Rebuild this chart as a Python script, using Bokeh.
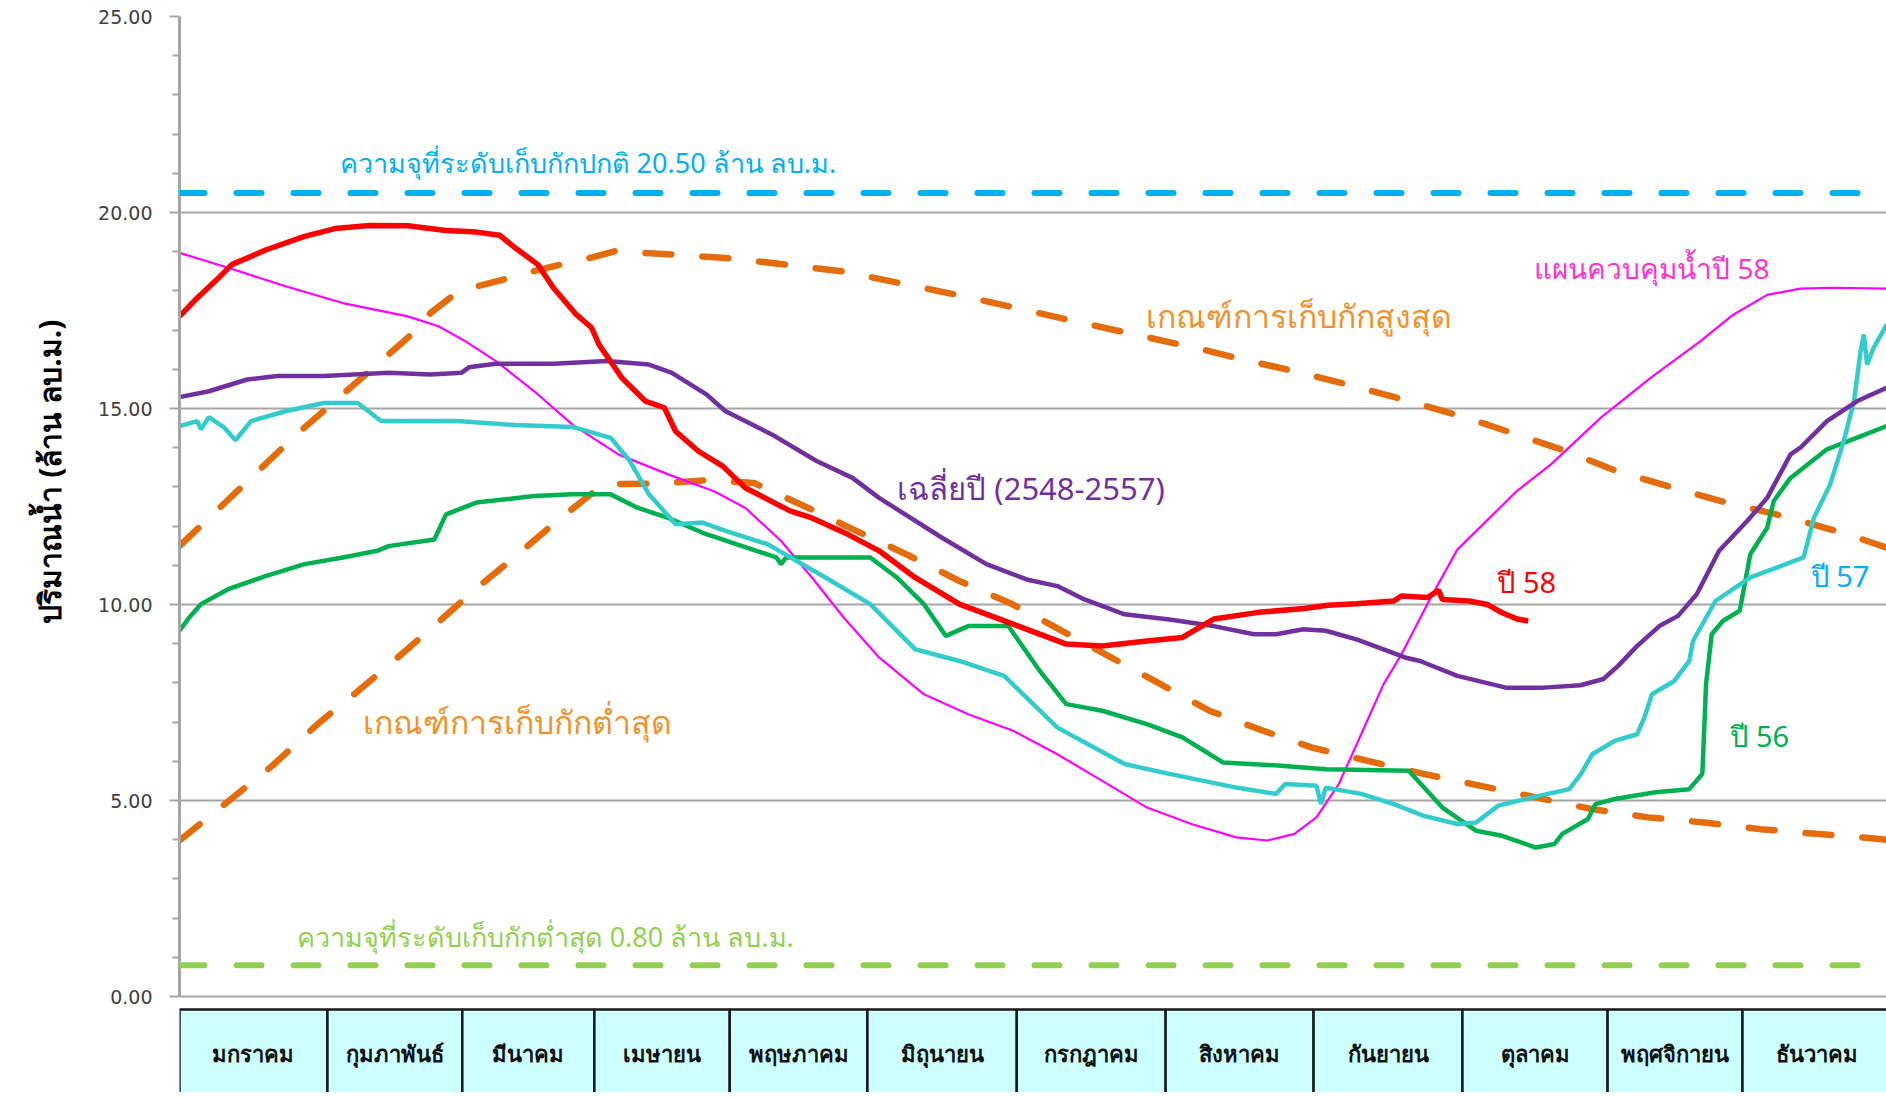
from bokeh.plotting import figure
from bokeh.models import Range1d, FixedTicker, PrintfTickFormatter, Span, Title
from bokeh.core.properties import value
from bokeh.embed import file_html
from bokeh.resources import INLINE

# ---------------- data (x = day of year, y = million m3) ----------------
months = ["มกราคม", "กุมภาพันธ์", "มีนาคม", "เมษายน", "พฤษภาคม", "มิถุนายน",
          "กรกฎาคม", "สิงหาคม", "กันยายน", "ตุลาคม", "พฤศจิกายน", "ธันวาคม"]
month_edges = [0, 31.7, 60.6, 88.9, 117.9, 147.4, 179.4, 211.3, 243.0, 274.9, 306.0, 334.9, 366.7]

normal_capacity = 20.50
min_capacity = 0.80

upper_day = [0, 25.1, 50.5, 53.8, 58.8, 62.8, 69.4, 75.1, 80.9, 86.6, 93.2, 98.9, 105.5, 117, 122.7,
             142, 167.8, 193.6, 219.4, 226.4, 238.9, 250.3, 261.6, 275.9, 296, 308, 320, 331.5,
             343.6, 356.4, 365.8]
upper_val = [11.49, 14.34, 16.97, 17.44, 17.9, 18.09, 18.29, 18.48, 18.65, 18.8, 19.01, 18.97, 18.93,
             18.84, 18.77, 18.5, 17.87, 17.18, 16.5, 16.29, 15.95, 15.61, 15.25, 14.76, 13.96, 13.4,
             12.98, 12.6, 12.26, 11.83, 11.45]

lower_day = [0, 9.6, 20, 29.6, 37.3, 45.9, 54.5, 64, 72.6, 80.9, 89.9, 92.4, 101.4, 112.9, 123.1,
             134.6, 145, 155.6, 167.1, 178.6, 189.1, 199.6, 210.2, 220.7, 232.2, 242.7, 254.6, 266.6,
             278.6, 290.6, 302.7, 314.7, 326.7, 338.7, 350.7, 362.7, 365.8]
lower_val = [3.98, 4.9, 5.9, 6.95, 7.7, 8.56, 9.45, 10.45, 11.29, 12.13, 12.98, 13.07, 13.08, 13.17,
             13.1, 12.47, 11.88, 11.29, 10.6, 10.0, 9.33, 8.65, 7.97, 7.29, 6.78, 6.35, 6.01, 5.68,
             5.38, 5.08, 4.78, 4.57, 4.44, 4.27, 4.15, 4.04, 4.0]

plan_day = [0, 10.4, 22.7, 35, 48.9, 55.5, 61.2, 67.8, 76, 84.2, 94, 104.7, 114.5, 121.2, 128.9,
            135.5, 142.3, 149.9, 159.5, 169, 178.6, 188.1, 197.7, 207.3, 216.8, 226.4, 233.1, 238.9,
            243.6, 248.4, 253.2, 258, 261.7, 268.2, 273.8, 286.6, 293.8, 304.5, 315.2, 325.9, 333,
            340.2, 347.3, 354.4, 365.8]
plan_val = [18.97, 18.59, 18.12, 17.69, 17.35, 17.1, 16.72, 16.21, 15.44, 14.59, 13.83, 13.32, 12.89,
            12.47, 11.62, 10.69, 9.67, 8.65, 7.71, 7.2, 6.78, 6.18, 5.5, 4.82, 4.4, 4.06, 3.98, 4.15,
            4.57, 5.42, 6.69, 7.97, 8.7, 10.2, 11.4, 12.9, 13.57, 14.76, 15.78, 16.72, 17.4, 17.9,
            18.06, 18.08, 18.06]

y56_day = [0, 2.1, 4.6, 10.4, 18.6, 26.8, 35, 42.4, 44.8, 54.6, 57.1, 63.6, 76, 84.2, 92.4, 98.1,
           104.7, 112.1, 119.3, 127.9, 128.9, 130, 140.3, 148, 153.7, 159.5, 164.2, 169, 177.6, 184.3,
           190, 197.7, 207.3, 214.9, 223.6, 236, 245.6, 263.4, 270.6, 277.8, 283.4, 290.6, 294.6,
           296.3, 301.8, 303.4, 307.5, 316.3, 323.5, 326.3, 327.1, 328.3, 330.7, 334.3, 336.6, 340.2,
           341.6, 345.2, 353, 365.8]
y56_val = [9.33, 9.67, 10.01, 10.39, 10.73, 11.03, 11.2, 11.37, 11.49, 11.66, 12.3, 12.6, 12.77,
           12.81, 12.81, 12.47, 12.21, 11.83, 11.54, 11.2, 11.03, 11.2, 11.2, 11.2, 10.69, 10.01, 9.2,
           9.45, 9.45, 8.31, 7.46, 7.29, 6.95, 6.61, 5.97, 5.89, 5.8, 5.76, 4.82, 4.23, 4.1, 3.8, 3.89,
           4.15, 4.53, 4.91, 5.04, 5.21, 5.29, 5.68, 7.97, 9.24, 9.58, 9.84, 11.29, 11.96, 12.64,
           13.23, 13.96, 14.55]

y57_day = [0, 3.8, 4.6, 6.3, 9.6, 12, 15.3, 22.7, 30.9, 38.2, 43.2, 59.6, 71.9, 84.2, 92.4, 96.5,
           100.6, 106.3, 112.1, 117, 126, 138.4, 148, 157.6, 167.1, 176.7, 188.1, 202.5, 212.1, 226.4,
           235, 236.9, 243.6, 244.6, 245.6, 253.2, 260.2, 266.6, 273.8, 277.8, 282.6, 289.8, 297.8,
           300.3, 302.7, 307.5, 312.3, 313.9, 315.5, 320.3, 323.5, 324.3, 326.7, 329.1, 336.6, 348,
           350.2, 353.7, 356.6, 358.8, 360.2, 360.9, 361.6, 363, 365.8]
y57_val = [14.55, 14.68, 14.47, 14.78, 14.51, 14.19, 14.68, 14.93, 15.14, 15.14, 14.68, 14.68, 14.58,
           14.53, 14.25, 13.66, 12.81, 12.05, 12.09, 11.88, 11.54, 10.69, 10.01, 8.86, 8.56, 8.18,
           6.86, 5.93, 5.68, 5.33, 5.17, 5.42, 5.38, 4.91, 5.33, 5.17, 4.91, 4.61, 4.4, 4.44, 4.87,
           5.08, 5.29, 5.68, 6.18, 6.52, 6.69, 7.12, 7.71, 8.05, 8.56, 9.07, 9.58, 10.09, 10.69, 11.2,
           12.21, 13.07, 14.17, 15.19, 16.46, 16.89, 16.12, 16.55, 17.14]

avg_day = [0, 6.3, 14.5, 21, 30.9, 44.8, 53.8, 60.4, 62, 67.8, 80.1, 91.6, 100.6, 105.5, 112.9, 117,
           121.2, 126.9, 136.5, 144.2, 149.9, 163.3, 172.9, 181.5, 188.1, 193.9, 202.5, 212.1, 221.6,
           230.2, 235, 240.8, 245.6, 252.2, 262.6, 265.8, 273.8, 284.2, 292.3, 300.2, 305.1, 308.3,
           312.3, 317.1, 321.1, 325.1, 329.9, 335.9, 340.2, 345.2, 347.3, 353, 359.5, 365.8]
avg_val = [15.29, 15.44, 15.74, 15.83, 15.83, 15.91, 15.87, 15.91, 16.05, 16.14, 16.14, 16.21, 16.12,
           15.91, 15.36, 14.93, 14.68, 14.34, 13.66, 13.23, 12.72, 11.71, 11.03, 10.64, 10.47, 10.13,
           9.75, 9.62, 9.45, 9.24, 9.24, 9.37, 9.33, 9.11, 8.65, 8.56, 8.18, 7.88, 7.88, 7.94, 8.1,
           8.44, 8.94, 9.45, 9.71, 10.26, 11.37, 12.13, 12.72, 13.83, 14.0, 14.68, 15.19, 15.53]

y58_day = [0, 3.8, 8.7, 11.2, 18.6, 26.8, 33.3, 40.7, 48.9, 57.1, 63.6, 68.6, 71.9, 76.8, 80.1, 85,
           88.3, 89.9, 94.8, 99.8, 103.9, 106.3, 111.2, 116.4, 121.2, 130.8, 135.5, 143.2, 149.9,
           157.6, 167.1, 178.6, 190, 197.7, 207.3, 214.9, 221.6, 231.2, 241, 246, 252.2, 260.2, 261.8,
           267.4, 269.8, 270.6, 276.2, 280.3, 283.4, 286.6, 289]
y58_val = [17.35, 17.82, 18.37, 18.67, 19.05, 19.39, 19.59, 19.67, 19.66, 19.54, 19.5, 19.42, 19.1,
           18.67, 18.08, 17.4, 17.06, 16.63, 15.78, 15.19, 15.02, 14.42, 13.91, 13.53, 12.98, 12.39,
           12.21, 11.79, 11.37, 10.69, 10.01, 9.5, 8.99, 8.94, 9.07, 9.16, 9.63, 9.8, 9.9, 9.98, 10.02,
           10.09, 10.22, 10.18, 10.36, 10.13, 10.09, 10.0, 9.79, 9.63, 9.58]

y_ticks = [0, 5, 10, 15, 20, 25]
y_title = "ปริมาณน้ำ (ล้าน ลบ.ม.)"

# ---------------- figure ----------------
THAI = value("Noto Sans")
p = figure(width=1886, height=1092, x_range=Range1d(0, 365.76), y_range=Range1d(-2.448, 25.0),
           output_backend="svg", toolbar_location=None, x_axis_location=None,
           min_border_left=179, min_border_right=0, min_border_top=16, min_border_bottom=0)
p.outline_line_color = None
p.xgrid.visible = False

tk = FixedTicker(ticks=y_ticks, minor_ticks=[m for m in range(0, 26) if m % 5])
p.yaxis.ticker = tk
p.ygrid.ticker = tk
p.ygrid.grid_line_color = "#A6A6A6"
p.ygrid.grid_line_width = 2
p.yaxis.bounds = (0, 25)
p.yaxis.formatter = PrintfTickFormatter(format="%.2f")
p.yaxis.axis_line_color = "#A6A6A6"
p.yaxis.axis_line_width = 3
p.yaxis.major_tick_line_color = "#A6A6A6"
p.yaxis.major_tick_line_width = 2
p.yaxis.major_tick_out = 10
p.yaxis.major_tick_in = 0
p.yaxis.minor_tick_line_color = "#A6A6A6"
p.yaxis.minor_tick_line_width = 2
p.yaxis.minor_tick_out = 7
p.yaxis.minor_tick_in = 0
p.yaxis.major_label_text_font = "DejaVu Sans"
p.yaxis.major_label_text_font_size = "19px"
p.yaxis.major_label_text_color = "#404040"
p.yaxis.major_label_standoff = 17

# y axis title as a left-side title, shifted up from the frame bottom
p.add_layout(Title(text=y_title, align="left", offset=469, standoff=51,
                   text_font="Noto Sans", text_font_size="30px", text_font_style="bold",
                   text_color="#000000"), "left")

# capacity reference lines
p.add_layout(Span(location=normal_capacity, dimension="width", line_color="#00B0F0",
                  line_width=6, line_dash="25 32", line_cap="round"))
p.add_layout(Span(location=min_capacity, dimension="width", line_color="#92D050",
                  line_width=6, line_dash="25 32", line_cap="round"))

# rule curves
p.line(upper_day, upper_val, line_color="#E46C0A", line_width=6.5, line_dash="26 31", line_cap="round")
p.line(lower_day, lower_val, line_color="#E46C0A", line_width=6.5, line_dash="26 31", line_cap="round")

# series
p.line(plan_day, plan_val, line_color="#FF00FF", line_width=2.2)
p.line(y56_day, y56_val, line_color="#00B050", line_width=4.5)
p.line(y57_day, y57_val, line_color="#33CCCC", line_width=4.5)
p.line(avg_day, avg_val, line_color="#7030A0", line_width=4.5)
p.line(y58_day, y58_val, line_color="#FF0000", line_width=5.5)

# month table under the chart
box_top, box_bottom, box_text_y = -0.33, -2.6, -1.45
p.quad(left=month_edges[:-1], right=month_edges[1:], top=box_top, bottom=box_bottom,
       fill_color="#CCFFFF", line_color="#1A1A1A", line_width=2.5)
centers = [(a + b) / 2 for a, b in zip(month_edges[:-1], month_edges[1:])]
p.text(x=centers, y=[box_text_y] * 12, text=months, text_align="center", text_baseline="middle",
       text_font=THAI, text_font_size="22px", text_font_style="bold", text_color="#111111")

# labels
def lab(x, y, t, color, size):
    p.text(x=[x], y=[y], text=[t], text_align="left", text_baseline="middle",
           text_font=THAI, text_font_size=size, text_color=color)

lab(34.3, 21.27, "ความจุที่ระดับเก็บกักปกติ 20.50 ล้าน ลบ.ม.", "#00B0F0", "27px")
lab(25.1, 1.53, "ความจุที่ระดับเก็บกักต่ำสุด 0.80 ล้าน ลบ.ม.", "#92D050", "27px")
lab(207.0, 17.36, "เกณฑ์การเก็บกักสูงสุด", "#F0922B", "32px")
lab(39.4, 7.01, "เกณฑ์การเก็บกักต่ำสุด", "#F0922B", "32px")
lab(153.8, 12.98, "เฉลี่ยปี (2548-2557)", "#7030A0", "31px")
lab(290.3, 18.59, "แผนควบคุมน้ำปี 58", "#FF33CC", "28px")
lab(282.4, 10.58, "ปี 58", "#FF0000", "29px")
lab(349.5, 10.73, "ปี 57", "#00B0F0", "29px")
lab(332.3, 6.65, "ปี 56", "#00B050", "29px")

open("out.html", "w").write(file_html(p, INLINE))
